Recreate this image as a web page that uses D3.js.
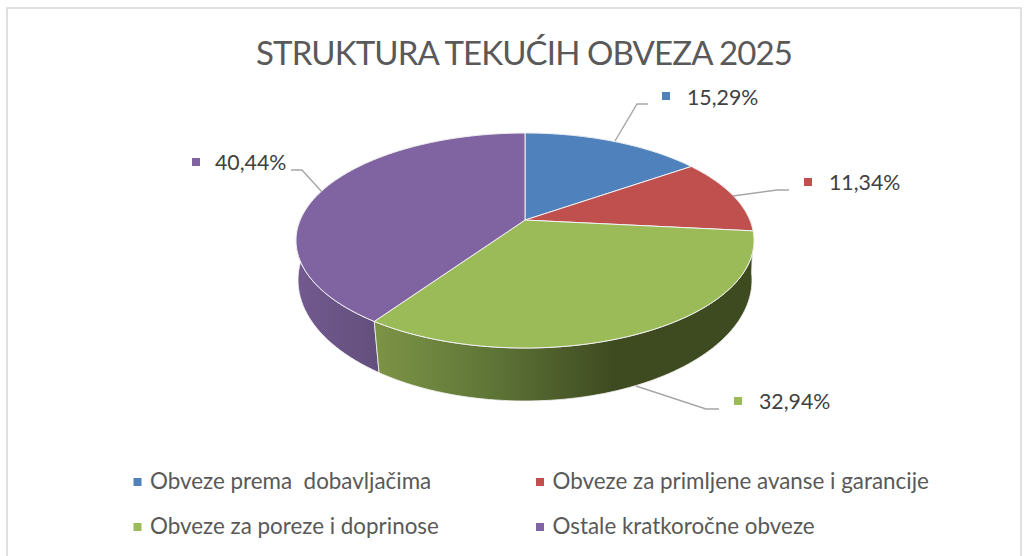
<!DOCTYPE html>
<html><head><meta charset="utf-8">
<script src="https://cdn.jsdelivr.net/npm/d3@7/dist/d3.min.js"></script>
<style>html,body{margin:0;padding:0;background:#fff}svg{display:block}text{font-family:Lato,"Noto Sans",sans-serif}</style>
</head><body><svg id="c" width="1029" height="556"></svg>
<script>
const titleText = "STRUKTURA TEKUĆIH OBVEZA 2025";
const categories = ["Obveze prema  dobavljačima","Obveze za primljene avanse i garancije","Obveze za poreze i doprinose","Ostale kratkoročne obveze"];
const values = [15.29,11.34,32.94,40.44];
const valueLabels = ["15,29%","11,34%","32,94%","40,44%"];
const colors = ["#4f81bd","#c0504d","#9bbb59","#8064a2"];
const wallStops = [
 [["0","#3a5878"],["1","#3a5878"]],
 [["0","#7a3331"],["1","#7a3331"]],
 [["0","#7d9446"],["0.3","#5f7638"],["0.63","#3e4a20"],["1","#3e4a20"]],
 [["0","#72598f"],["0.36","#634f7c"],["1","#634f7c"]]
];
const labelPos = [
 {sq:[666,96],tx:[687,105],line:[[615,141],[637,104],[648,104]]},
 {sq:[808,182],tx:[829,190],line:[[733,196],[777,190],[789,190]]},
 {sq:[738,401],tx:[759,409],line:[[636,386],[706,409],[719,409]]},
 {sq:[196,162],tx:[215,170],line:[[322,192],[302,170],[291,170]]}
];
const legendPos = [[137.5,482],[540,482],[137.5,527],[540,527]];

const svg = d3.select("#c");
svg.append("rect").attr("x",7).attr("y",8).attr("width",1014).attr("height",560)
  .attr("fill","#fff").attr("stroke","#d9d9d9").attr("stroke-width",1.6);
svg.append("text").attr("x",256).attr("y",64.5)
  .attr("font-size",33).attr("textLength",537).attr("lengthAdjust","spacing")
  .attr("fill","#595959").text(titleText);

const pie = d3.pie().sort(null).value(d=>d).startAngle(0).endAngle(2*Math.PI);
const arcs = pie(values);
const topDisc = {cx:525,cy:240.5,rx:229,ry:107.5,t:0.19};
const botDisc = {cx:525,cy:280,rx:227,ry:121,t:0.16};
function project(d,a){
  const u=Math.sin(a),v=Math.cos(a),den=1+d.t*v;
  return [d.cx+d.rx*u*Math.sqrt(1-d.t*d.t)/den, d.cy-d.ry*(v+d.t)/den];
}
const apex = d=>[d.cx,d.cy-d.ry*d.t];
const defs = svg.append("defs");
arcs.forEach((a,i)=>{
  const ts=d3.range(0,1.0001,1/80).map(f=>a.startAngle+f*(a.endAngle-a.startAngle));
  a.topRim=ts.map(t=>project(topDisc,t));
  a.botRim=ts.map(t=>project(botDisc,t));
  const xs=a.botRim.map(p=>p[0]).concat(a.topRim.map(p=>p[0]));
  const g=defs.append("linearGradient").attr("id","w"+i).attr("gradientUnits","userSpaceOnUse")
    .attr("x1",d3.min(xs)).attr("x2",d3.max(xs)).attr("y1",0).attr("y2",0);
  wallStops[i].forEach(s=>g.append("stop").attr("offset",s[0]).attr("stop-color",s[1]));
});
const line=d3.line();
[3,0,1,2].forEach(i=>{
  const a=arcs[i];
  svg.append("path").attr("d",line(a.topRim.concat(a.botRim.slice().reverse()))+"Z")
    .attr("fill",`url(#w${i})`).attr("stroke","#f4f4f4").attr("stroke-width",0.8).attr("stroke-linejoin","round");
});
arcs.forEach((a,i)=>{
  svg.append("path").attr("d",line([apex(topDisc)].concat(a.topRim))+"Z")
    .attr("fill",colors[i]).attr("stroke","#f2f2f2").attr("stroke-width",1).attr("stroke-linejoin","round");
});
labelPos.forEach((p,i)=>{
  svg.append("path").attr("d",line(p.line)).attr("fill","none").attr("stroke","#a6a6a6").attr("stroke-width",1.4);
  svg.append("rect").attr("x",p.sq[0]-4).attr("y",p.sq[1]-4).attr("width",8).attr("height",8).attr("fill",colors[i]);
  svg.append("text").attr("x",p.tx[0]).attr("y",p.tx[1]).attr("font-size",21.3).attr("fill","#404040").text(valueLabels[i]);
});
categories.forEach((c,i)=>{
  const [x,y]=legendPos[i];
  svg.append("rect").attr("x",x-4).attr("y",y-4).attr("width",8).attr("height",8).attr("fill",colors[i]);
  svg.append("text").attr("x",x+12.5).attr("y",y+7).attr("font-size",22.4).attr("fill","#595959")
    .attr("xml:space","preserve").style("white-space","pre").text(c);
});
</script></body></html>
